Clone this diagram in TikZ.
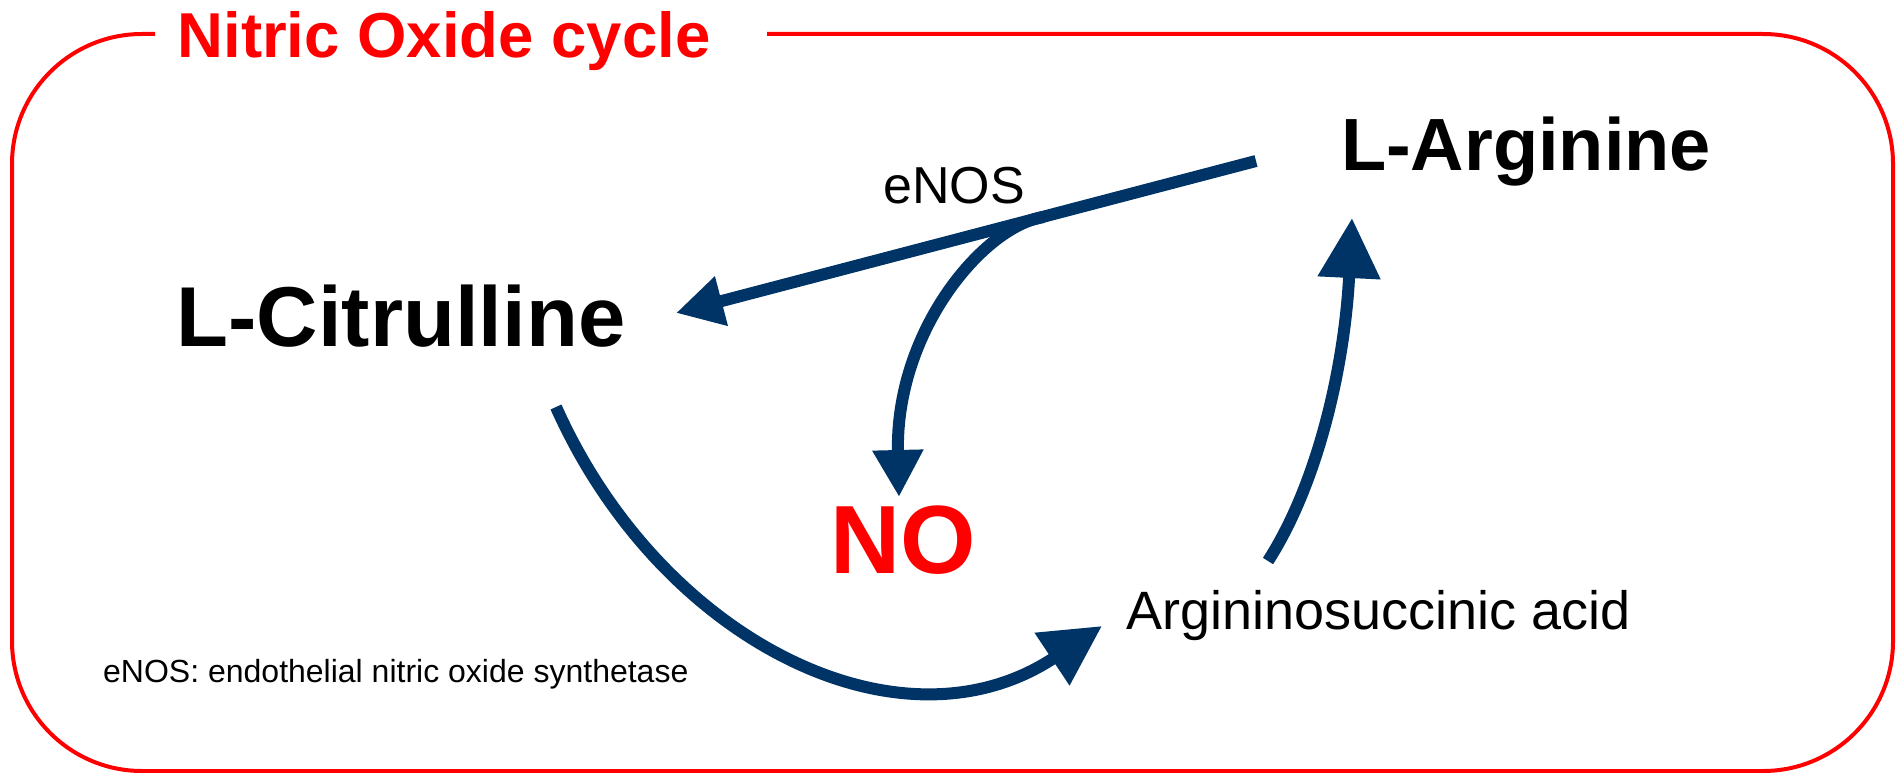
\documentclass[tikz,border=0pt]{standalone}
\usepackage{fontspec}
\setmainfont{Liberation Sans}
\usetikzlibrary{arrows.meta}
\definecolor{navy}{RGB}{0,51,102}
\definecolor{frred}{RGB}{255,0,0}
\begin{document}
\begin{tikzpicture}[x=1pt,y=-1pt,
  flow/.style={draw=navy, line width=12pt, -{Triangle[length=47pt,width=48pt]}},
  bigflow/.style={flow, -{Triangle[length=60pt,width=60pt]}},
  lbl/.style={inner sep=0pt, anchor=base},
  frame/.style={draw=frred, line width=4pt, rounded corners=130pt}]
\useasboundingbox (0,0) rectangle (1903,773);
% frame
\node[lbl, text=frred, font=\fontsize{63.5}{66}\selectfont\bfseries] (title) at (444,58) {Nitric Oxide cycle};
\draw[frame] (155,34) -- (12,34) -- (12,771) -- (1893,771) -- (1893,34) -- (767,34);
% labels
\node[lbl, font=\fontsize{74}{80}\selectfont\bfseries] (arg) at (1526,170) {L-Arginine};
\node[lbl, font=\fontsize{85}{90}\selectfont\bfseries] (cit) at (401,346) {L-Citrulline};
\node[lbl, text=frred, font=\fontsize{97}{100}\selectfont\bfseries] (no) at (903,573) {NO};
\node[lbl, font=\fontsize{52}{56}\selectfont] (enos) at (954,203) {eNOS};
\node[lbl, font=\fontsize{54}{58}\selectfont] (asa) at (1379,629) {Argininosuccinic acid};
\node[inner sep=0pt, anchor=base west, font=\fontsize{32}{36}\selectfont] (note) at (103,682) {eNOS: endothelial nitric oxide synthetase};
% connector ends
\coordinate (a1s) at (1256,161);
\coordinate (a1e) at (676,313);
\coordinate (j) at (1044,217);
\coordinate (noe) at (899,497);
\coordinate (a3s) at (556,407);
\coordinate (a3e) at (1102,626);
\coordinate (a4s) at (1268,561);
\coordinate (a4e) at (1352,218);
% arrows
\draw[flow] (a1s) -- (a1e);
\draw[flow] (j) .. controls (985,225) and (895,330) .. (noe);
\draw[bigflow] (a3s) .. controls (660,640) and (900,760) .. (a3e);
\draw[bigflow] (a4s) .. controls (1320,480) and (1345,360) .. (a4e);
\end{tikzpicture}
\end{document}
